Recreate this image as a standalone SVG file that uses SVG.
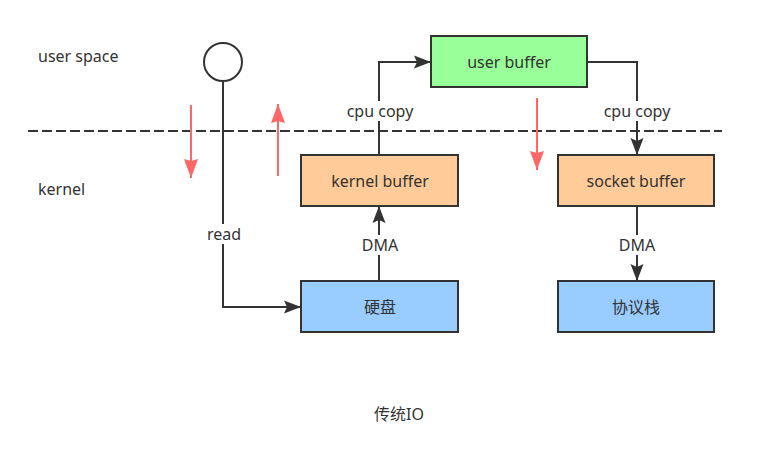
<svg xmlns="http://www.w3.org/2000/svg" width="770" height="450" viewBox="0 0 770 450">
<style>
  text { font-family: "Noto Sans", "Open Sans", "Noto Sans CJK SC", sans-serif; font-size: 16px; fill: #333; }
  .c { text-anchor: middle; dominant-baseline: central; }
  .box { stroke: #333; stroke-width: 2; }
  .ln { fill: none; stroke: #333; stroke-width: 2; }
  .red { fill: none; stroke: #FF6666; stroke-width: 2; }
  .lbl { fill: #fff; }
</style>
<defs>
  <marker id="ah" markerUnits="userSpaceOnUse" markerWidth="18" markerHeight="14" refX="17" refY="6.5" orient="auto" viewBox="0 0 18 13">
    <path d="M0,0 L17,6.5 L0,13 L3,6.5 Z" fill="#333"/>
  </marker>
  <marker id="rh" markerUnits="userSpaceOnUse" markerWidth="20" markerHeight="14" refX="19" refY="7" orient="auto" viewBox="0 0 20 14">
    <path d="M0,0 L19,7 L0,14 L2,7 Z" fill="#FF6666"/>
  </marker>
</defs>
<rect width="770" height="450" fill="#fff"/>

<text x="38" y="56" dominant-baseline="central">user space</text>
<text x="38" y="189" dominant-baseline="central">kernel</text>
<text x="399" y="414" class="c">传统IO</text>

<line x1="28" y1="131" x2="722" y2="131" stroke="#333" stroke-width="2" stroke-dasharray="10 4"/>

<g id="redArrows">
  <line class="red" x1="191" y1="105" x2="191" y2="178" marker-end="url(#rh)"/>
  <line class="red" x1="278" y1="176" x2="278" y2="104" marker-end="url(#rh)"/>
  <line class="red" x1="537" y1="98" x2="537" y2="170" marker-end="url(#rh)"/>
</g>

<g id="connectors">
  <path class="ln" d="M223,82 L223,307 L301,307" marker-end="url(#ah)"/>
  <rect class="lbl" x="202" y="224" width="44" height="20"/>
  <text x="224" y="234" class="c">read</text>

  <path class="ln" d="M379,281 L379,206" marker-end="url(#ah)"/>
  <rect class="lbl" x="357" y="235" width="46" height="20"/>
  <text x="380" y="245" class="c">DMA</text>

  <path class="ln" d="M379,155 L379,62 L431,62" marker-end="url(#ah)"/>
  <rect class="lbl" x="342" y="101" width="76" height="20"/>
  <text x="380" y="111" class="c">cpu copy</text>

  <path class="ln" d="M587,62 L637,62 L637,155" marker-end="url(#ah)"/>
  <rect class="lbl" x="599" y="101" width="76" height="20"/>
  <text x="637" y="111" class="c">cpu copy</text>

  <path class="ln" d="M637,207 L637,281" marker-end="url(#ah)"/>
  <rect class="lbl" x="614" y="235" width="46" height="20"/>
  <text x="637" y="245" class="c">DMA</text>
</g>

<g id="process">
  <circle cx="223" cy="62" r="19" fill="#fff" stroke="#333" stroke-width="2"/>
</g>
<g id="userBuffer">
  <rect class="box" x="431" y="36" width="156" height="51" fill="#99FF99"/>
  <text x="509" y="62" class="c">user buffer</text>
</g>
<g id="kernelBuffer">
  <rect class="box" x="301" y="155" width="157" height="51" fill="#FFCC99"/>
  <text x="380" y="181" class="c">kernel buffer</text>
</g>
<g id="socketBuffer">
  <rect class="box" x="558" y="155" width="156" height="51" fill="#FFCC99"/>
  <text x="636" y="181" class="c">socket buffer</text>
</g>
<g id="disk">
  <rect class="box" x="301" y="281" width="157" height="51" fill="#99CCFF"/>
  <text x="380" y="307" class="c">硬盘</text>
</g>
<g id="stack">
  <rect class="box" x="558" y="281" width="156" height="51" fill="#99CCFF"/>
  <text x="636" y="307" class="c">协议栈</text>
</g>
</svg>
